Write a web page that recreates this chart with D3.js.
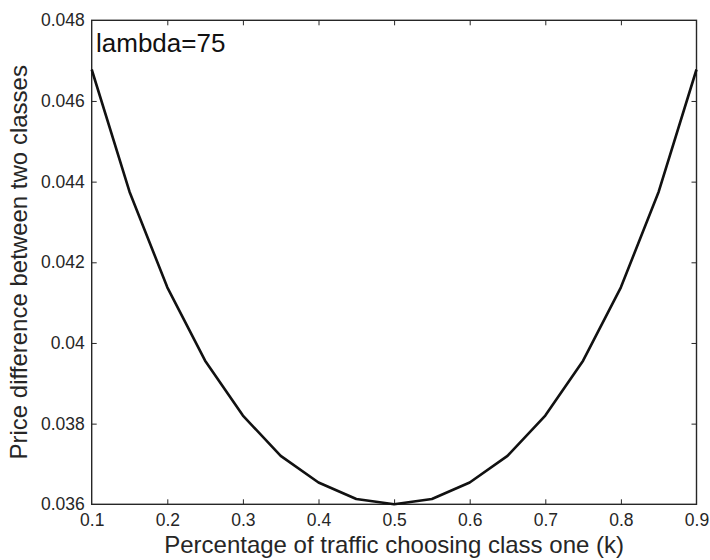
<!DOCTYPE html>
<html>
<head>
<meta charset="utf-8">
<script src="https://cdn.jsdelivr.net/npm/d3@7"></script>
<style>
  html, body { margin: 0; padding: 0; background: #fff; }
  svg { display: block; font-family: "Liberation Sans", Arial, sans-serif; }
</style>
</head>
<body>
<svg id="chart" width="710" height="560"></svg>
<script>
// Share of traffic choosing class one (k)
const kValues = [0.1, 0.15, 0.2, 0.25, 0.3, 0.35, 0.4, 0.45, 0.5,
                 0.55, 0.6, 0.65, 0.7, 0.75, 0.8, 0.85, 0.9];
// Price difference between the two classes for lambda = 75
const priceDiff = [0.04678, 0.04375, 0.04138, 0.03956, 0.03820, 0.03720, 0.03654, 0.03613, 0.03600,
                   0.03613, 0.03654, 0.03720, 0.03820, 0.03956, 0.04138, 0.04375, 0.04678];

const xTicks = [0.1, 0.2, 0.3, 0.4, 0.5, 0.6, 0.7, 0.8, 0.9];
const yTicks = [0.036, 0.038, 0.04, 0.042, 0.044, 0.046, 0.048];
const yTickLabels = ["0.036", "0.038", "0.04", "0.042", "0.044", "0.046", "0.048"];

const margin = { left: 91.7, right: 696.5, top: 20.3, bottom: 504.3 };
const svg = d3.select("#chart");

const x = d3.scaleLinear().domain([0.1, 0.9]).range([margin.left, margin.right]);
const y = d3.scaleLinear().domain([0.036, 0.048]).range([margin.bottom, margin.top]);

const tickLen = 5;
const axisColor = "#262626";
const textColor = "#262626";

// Bottom axis (inward ticks)
const gBottom = svg.append("g").attr("transform", `translate(0,${margin.bottom})`)
  .call(d3.axisBottom(x).tickValues(xTicks).tickFormat(d3.format(".1f"))
        .tickSizeInner(-tickLen).tickSizeOuter(0).tickPadding(9));
// Top axis (ticks only)
const gTop = svg.append("g").attr("transform", `translate(0,${margin.top})`)
  .call(d3.axisTop(x).tickValues(xTicks).tickFormat("").tickSizeInner(-tickLen).tickSizeOuter(0));
// Left axis
const gLeft = svg.append("g").attr("transform", `translate(${margin.left},0)`)
  .call(d3.axisLeft(y).tickValues(yTicks).tickFormat((d, i) => yTickLabels[i])
        .tickSizeInner(-tickLen).tickSizeOuter(0).tickPadding(7));
// Right axis (ticks only)
const gRight = svg.append("g").attr("transform", `translate(${margin.right},0)`)
  .call(d3.axisRight(y).tickValues(yTicks).tickFormat("").tickSizeInner(-tickLen).tickSizeOuter(0));

[gBottom, gTop, gLeft, gRight].forEach(g => {
  g.select(".domain").remove();
  g.selectAll(".tick line").attr("stroke", axisColor).attr("stroke-width", 1);
  g.selectAll(".tick text").attr("fill", textColor).style("font-size", "17.5px")
    .style("font-family", "'Liberation Sans', Arial, sans-serif");
});
// Drop the end ticks that would sit on the frame
gBottom.selectAll(".tick line").filter(d => d === 0.1 || d === 0.9).remove();
gTop.selectAll(".tick line").filter(d => d === 0.1 || d === 0.9).remove();
gLeft.selectAll(".tick line").filter(d => d === 0.036 || d === 0.048).remove();
gRight.selectAll(".tick line").filter(d => d === 0.036 || d === 0.048).remove();

// Frame
svg.append("rect")
  .attr("x", margin.left).attr("y", margin.top)
  .attr("width", margin.right - margin.left).attr("height", margin.bottom - margin.top)
  .attr("fill", "none").attr("stroke", axisColor).attr("stroke-width", 1.4);

// Curve
const line = d3.line().x((d, i) => x(kValues[i])).y(d => y(d));
svg.append("path")
  .datum(priceDiff)
  .attr("d", line)
  .attr("fill", "none")
  .attr("stroke", "#111")
  .attr("stroke-width", 2.6)
  .attr("stroke-linejoin", "round");

// Annotation
svg.append("text")
  .attr("x", 96).attr("y", 51.5)
  .attr("fill", "#111")
  .style("font-size", "26px")
  .text("lambda=75");

// Axis titles
svg.append("text")
  .attr("x", (margin.left + margin.right) / 2).attr("y", 553)
  .attr("text-anchor", "middle").attr("fill", textColor)
  .style("font-size", "24px")
  .text("Percentage of traffic choosing class one (k)");

svg.append("text")
  .attr("transform", `translate(26.5,${(margin.top + margin.bottom) / 2}) rotate(-90)`)
  .attr("text-anchor", "middle").attr("fill", textColor)
  .style("font-size", "24px")
  .text("Price difference between two classes");
</script>
</body>
</html>
